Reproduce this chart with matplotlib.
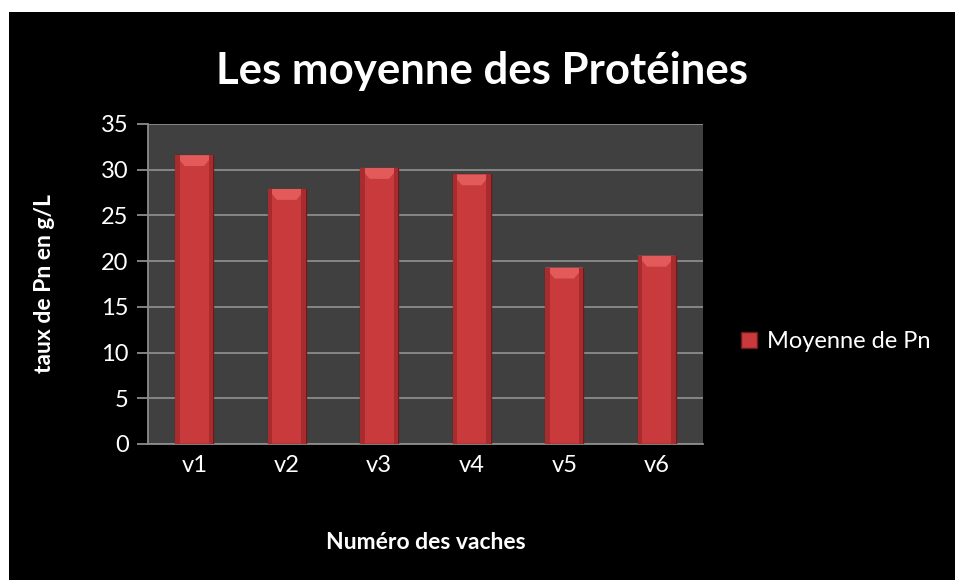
import numpy as np
import matplotlib.pyplot as plt
from matplotlib.patches import Rectangle, Polygon

plt.rcParams['font.family'] = ['Lato', 'DejaVu Sans']

vaches = ['v1', 'v2', 'v3', 'v4', 'v5', 'v6']
moyenne_pn = [31.6, 27.9, 30.2, 29.5, 19.3, 20.6]
yticks = [0, 5, 10, 15, 20, 25, 30, 35]

fig = plt.figure(figsize=(9.55, 5.8), dpi=100)
fig.patch.set_facecolor('white')
# black chart area (leaves a thin white margin at top and left)
fig.patches.append(Rectangle((9/955, 0), 1, 1 - 12/580, transform=fig.transFigure,
                             facecolor='black', edgecolor='none', zorder=-10))

ax = fig.add_axes([148/955, 1 - 444/580, 555/955, 320/580])
ax.set_facecolor('#404040')

x = np.arange(len(vaches))
w = 0.41
bars = ax.bar(x, moyenne_pn, width=w, color='#c93a3c', edgecolor='#6e1a1a',
              linewidth=1.0, zorder=3, label='Moyenne de Pn')

# bevel highlight on top of each bar
bev = 1.2
for xi, v in zip(x, moyenne_pn):
    ax.add_patch(Polygon([(xi - w/2, v), (xi + w/2, v), (xi + w/2 - 0.1, v - bev),
                          (xi - w/2 + 0.1, v - bev)], closed=True,
                         facecolor='#e25a5a', edgecolor='none', zorder=4))
    ax.add_patch(Rectangle((xi - w/2, 0), 0.05, v, facecolor='#a82c2e',
                           edgecolor='none', zorder=4))
    ax.add_patch(Rectangle((xi + w/2 - 0.05, 0), 0.05, v, facecolor='#a82c2e',
                           edgecolor='none', zorder=4))

ax.set_xlim(-0.5, len(vaches) - 0.5)
ax.set_ylim(0, 35)
ax.set_yticks(yticks)
ax.set_xticks(x)
ax.set_xticklabels(vaches)
ax.yaxis.grid(True, color='#8c8c8c', linewidth=1.3, zorder=0)
ax.set_axisbelow(True)

for s in ['top', 'right']:
    ax.spines[s].set_visible(False)
for s in ['left', 'bottom']:
    ax.spines[s].set_color('#8c8c8c')
    ax.spines[s].set_linewidth(1.3)

ax.tick_params(axis='y', colors='white', labelsize=17, length=8, width=1.3,
               color='#8c8c8c', pad=6)
ax.tick_params(axis='x', colors='white', labelsize=17, length=0, pad=8)

ax.set_ylabel('taux de Pn en g/L', color='white', fontsize=16.5,
              fontweight='bold', labelpad=33)
ax.set_xlabel('Numéro des vaches', color='white', fontsize=16.5,
              fontweight='bold', labelpad=40)

fig.text(482/955, 1 - 71/580, 'Les moyenne des Protéines', color='white',
         fontsize=31.5, fontweight='bold', ha='center', va='center')

leg = ax.legend(loc='center left', bbox_to_anchor=(1.03, 0.32), frameon=False,
                fontsize=17, handlelength=0.7, handleheight=0.7,
                handletextpad=0.4, labelcolor='white')

fig.savefig('out.png', dpi=100, facecolor=fig.get_facecolor())
